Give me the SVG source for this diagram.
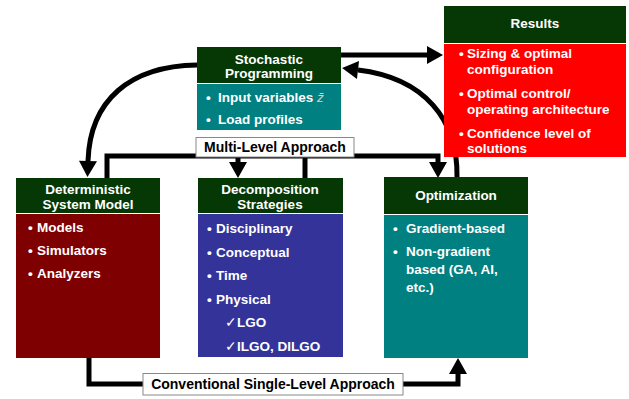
<svg xmlns="http://www.w3.org/2000/svg" width="629" height="399" viewBox="0 0 629 399">
<style>
text{font-family:"Liberation Sans",Arial,sans-serif;font-weight:bold;font-size:13.5px;fill:#fff}
.c{text-anchor:middle}
.hd{fill:#053805}
.ln{fill:none;stroke:#000;stroke-width:5;stroke-linejoin:miter}
.lb{fill:#fff;stroke:#888;stroke-width:1}
.lt{fill:#000;font-size:14px;text-anchor:middle}
</style>
<defs>
<marker id="ah" markerUnits="userSpaceOnUse" markerWidth="18" markerHeight="20" refX="0" refY="9" orient="auto" overflow="visible">
<path d="M0,0 L16,9 L0,18 Z" fill="#000"/>
</marker>
</defs>
<g id="connectors">
<path class="ln" d="M341,55 L427,55" marker-end="url(#ah)"/>
<path class="ln" d="M457,177 C458,120 425,78 358,70" marker-end="url(#ah)"/>
<path class="ln" d="M197,65 C130,66 90,100 88,161" marker-end="url(#ah)"/>
<path class="ln" d="M107,178 L107,156 L438,156 L438,162" marker-end="url(#ah)"/>
<path class="ln" d="M238,156 L238,162" marker-end="url(#ah)"/>
<path class="ln" d="M305,156 L305,178"/>
<path class="ln" d="M89,358 L89,384 L458,384 L458,374" marker-end="url(#ah)"/>
<g id="label-multi">
<rect class="lb" x="196" y="137.5" width="158" height="19.5"/>
<text class="lt" x="275" y="152">Multi-Level Approach</text>
</g>
<g id="label-single">
<rect class="lb" x="143" y="373.5" width="260" height="21.5"/>
<text class="lt" x="273" y="389">Conventional Single-Level Approach</text>
</g>
</g>
<g id="stochastic">
<rect class="hd" x="197" y="47" width="144" height="36"/>
<rect x="197" y="84" width="144" height="46" fill="#008080"/>
<text class="c" x="269" y="64">Stochastic</text>
<text class="c" x="269" y="78">Programming</text>
<text x="206" y="102">•</text>
<text x="218" y="102">Input variables <tspan style="fill:#cfcfcf;font-style:italic;font-weight:normal">z̄</tspan></text>
<text x="206" y="124">•</text>
<text x="218" y="124">Load profiles</text>
</g>
<g id="results">
<rect class="hd" x="444" y="6" width="182" height="37"/>
<rect x="444" y="44" width="182" height="113" fill="#ff0000"/>
<text class="c" x="535" y="28">Results</text>
<text x="459" y="58">•</text>
<text x="467" y="58">Sizing &amp; optimal</text>
<text x="467" y="74">configuration</text>
<text x="459" y="98">•</text>
<text x="467" y="98">Optimal control/</text>
<text x="467" y="114">operating architecture</text>
<text x="459" y="138">•</text>
<text x="467" y="138">Confidence level of</text>
<text x="467" y="153">solutions</text>
</g>
<g id="deterministic">
<rect class="hd" x="16" y="178" width="144" height="35"/>
<rect x="16" y="214" width="144" height="144" fill="#7f0000"/>
<text class="c" x="88" y="194">Deterministic</text>
<text class="c" x="88" y="209">System Model</text>
<text x="28" y="232">•</text>
<text x="37" y="232">Models</text>
<text x="28" y="255">•</text>
<text x="37" y="255">Simulators</text>
<text x="28" y="278">•</text>
<text x="37" y="278">Analyzers</text>
</g>
<g id="decomposition">
<rect class="hd" x="198" y="178" width="145" height="35"/>
<rect x="198" y="214" width="145" height="143" fill="#333399"/>
<text class="c" x="270" y="194">Decomposition</text>
<text class="c" x="270" y="209">Strategies</text>
<text x="207" y="233">•</text>
<text x="216" y="233">Disciplinary</text>
<text x="207" y="257">•</text>
<text x="216" y="257">Conceptual</text>
<text x="207" y="280">•</text>
<text x="216" y="280">Time</text>
<text x="207" y="304">•</text>
<text x="216" y="304">Physical</text>
<text x="225" y="327"><tspan style="font-weight:normal">✓</tspan>LGO</text>
<text x="225" y="351"><tspan style="font-weight:normal">✓</tspan>ILGO, DILGO</text>
</g>
<g id="optimization">
<rect class="hd" x="384" y="177" width="144" height="37"/>
<rect x="384" y="215" width="144" height="143" fill="#008080"/>
<text class="c" x="456" y="200">Optimization</text>
<text x="393" y="233">•</text>
<text x="406" y="233">Gradient-based</text>
<text x="393" y="256">•</text>
<text x="406" y="256">Non-gradient</text>
<text x="406" y="274">based (GA, AI,</text>
<text x="406" y="292">etc.)</text>
</g>
</svg>
